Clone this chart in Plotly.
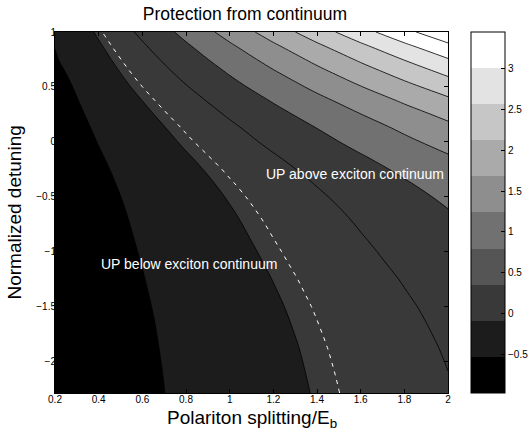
import plotly.graph_objects as go

# ---- data ----
x_vals = [0.2, 0.4, 0.6, 0.8, 1.0, 1.2, 1.4, 1.6, 1.8, 2.0]
y_vals = [-2.29, -2.125, -2.0, -1.875, -1.75, -1.625, -1.5, -1.375, -1.25, -1.125,
          -1.0, -0.875, -0.75, -0.625, -0.5, -0.375, -0.25, -0.125, 0.0,
          0.125, 0.25, 0.375, 0.5, 0.625, 0.75, 0.875, 1.0]
z_rows = [
    [-0.867, -0.734, -0.601, -0.468, -0.335, -0.202, -0.069, 0.064, 0.197, 0.330],
    [-0.865, -0.730, -0.596, -0.461, -0.326, -0.191, -0.056, 0.078, 0.213, 0.348],
    [-0.864, -0.727, -0.591, -0.454, -0.318, -0.182, -0.045, 0.091, 0.228, 0.364],
    [-0.862, -0.724, -0.585, -0.447, -0.309, -0.171, -0.033, 0.106, 0.244, 0.382],
    [-0.860, -0.719, -0.579, -0.438, -0.298, -0.158, -0.017, 0.123, 0.264, 0.404],
    [-0.857, -0.714, -0.572, -0.429, -0.286, -0.143, 0.000, 0.142, 0.285, 0.428],
    [-0.854, -0.709, -0.563, -0.418, -0.272, -0.126, 0.019, 0.165, 0.310, 0.456],
    [-0.851, -0.702, -0.553, -0.404, -0.255, -0.106, 0.043, 0.192, 0.341, 0.490],
    [-0.847, -0.695, -0.542, -0.390, -0.237, -0.084, 0.068, 0.221, 0.373, 0.526],
    [-0.843, -0.686, -0.529, -0.372, -0.215, -0.058, 0.099, 0.256, 0.413, 0.570],
    [-0.838, -0.677, -0.515, -0.354, -0.192, -0.030, 0.131, 0.293, 0.454, 0.616],
    [-0.833, -0.666, -0.500, -0.333, -0.166, 0.001, 0.168, 0.334, 0.501, 0.668],
    [-0.828, -0.656, -0.483, -0.311, -0.139, 0.033, 0.205, 0.378, 0.550, 0.722],
    [-0.821, -0.643, -0.464, -0.286, -0.107, 0.072, 0.250, 0.429, 0.607, 0.786],
    [-0.814, -0.627, -0.441, -0.254, -0.068, 0.118, 0.305, 0.491, 0.678, 0.864],
    [-0.804, -0.608, -0.412, -0.216, -0.020, 0.176, 0.372, 0.568, 0.764, 0.960],
    [-0.792, -0.585, -0.377, -0.170, 0.038, 0.246, 0.453, 0.661, 0.868, 1.076],
    [-0.778, -0.556, -0.334, -0.112, 0.110, 0.332, 0.554, 0.776, 0.998, 1.220],
    [-0.761, -0.522, -0.283, -0.044, 0.195, 0.434, 0.673, 0.912, 1.151, 1.390],
    [-0.743, -0.486, -0.229, 0.028, 0.285, 0.542, 0.799, 1.056, 1.313, 1.570],
    [-0.721, -0.442, -0.163, 0.116, 0.395, 0.674, 0.953, 1.232, 1.511, 1.790],
    [-0.696, -0.392, -0.088, 0.216, 0.520, 0.824, 1.128, 1.432, 1.736, 2.040],
    [-0.667, -0.334, -0.001, 0.332, 0.665, 0.998, 1.331, 1.664, 1.997, 2.330],
    [-0.620, -0.272, 0.092, 0.456, 0.820, 1.184, 1.548, 1.912, 2.276, 2.640],
    [-0.560, -0.204, 0.194, 0.592, 0.990, 1.388, 1.786, 2.184, 2.582, 2.980],
    [-0.525, -0.128, 0.308, 0.744, 1.180, 1.616, 2.052, 2.488, 2.924, 3.360],
    [-0.500, -0.040, 0.440, 0.920, 1.400, 1.880, 2.360, 2.840, 3.320, 3.800],
]
x_ticks = [0.2, 0.4, 0.6, 0.8, 1.0, 1.2, 1.4, 1.6, 1.8, 2.0]
x_tick_text = ["0.2", "0.4", "0.6", "0.8", "1", "1.2", "1.4", "1.6", "1.8", "2"]
y_ticks = [-2, -1.5, -1, -0.5, 0, 0.5, 1]
cbar_ticks = [-0.5, 0, 0.5, 1, 1.5, 2, 2.5, 3]
c_min, c_max, n_bands = -0.975, 3.45, 10
bar_grays = ["#000000", "#1c1c1c", "#393939", "#555555", "#717171",
             "#8e8e8e", "#aaaaaa", "#c6c6c6", "#e3e3e3", "#ffffff"]
# fill colour of each region of the map (below first level, then above each level)
region_grays = ["#000000", "#1c1c1c", "#393939", "#393939", "#717171", "#8e8e8e",
                "#aaaaaa", "#c6c6c6", "#e3e3e3", "#ffffff", "#ffffff"]

FONT = "Liberation Sans, Arial, sans-serif"
step = (c_max - c_min) / n_bands

fill_scale = [[k / n_bands, g] for k, g in enumerate(region_grays)]
bar_scale = []
for k, g in enumerate(bar_grays):
    bar_scale.append([k / n_bands, g])
    bar_scale.append([(k + 1) / n_bands, g])

fig = go.Figure()
fig.add_trace(go.Contour(
    x=x_vals, y=y_vals, z=z_rows,
    autocontour=False,
    contours=dict(start=c_min + step, end=c_max, size=step, coloring="fill"),
    colorscale=fill_scale, showscale=False,
    line=dict(color="black", width=0.8, smoothing=1.0),
    hoverinfo="skip",
))
fig.add_trace(go.Contour(
    x=x_vals, y=y_vals, z=z_rows,
    autocontour=False,
    contours=dict(start=0, end=0, size=1, coloring="none"),
    showscale=False,
    line=dict(color="white", width=1, dash="4px,5px", smoothing=1.0),
    hoverinfo="skip",
))
fig.add_trace(go.Scatter(
    x=[None], y=[None], mode="markers", showlegend=False, hoverinfo="skip",
    marker=dict(color=[c_min], cmin=c_min, cmax=c_max, colorscale=bar_scale,
                showscale=True,
                colorbar=dict(thickness=34, thicknessmode="pixels", len=1, lenmode="fraction",
                              x=(471 - 55) / 393, xanchor="left", xpad=0, ypad=0,
                              y=0.5, yanchor="middle",
                              outlinecolor="black", outlinewidth=1,
                              tickvals=cbar_ticks, ticks="inside", ticklen=4,
                              tickcolor="black",
                              tickfont=dict(family=FONT, size=10, color="black"))),
))

fig.add_annotation(x=0.402, y=-1.11, xref="x", yref="y", text="UP below exciton continuum",
                   showarrow=False, xanchor="left", yanchor="middle",
                   font=dict(family=FONT, size=14, color="white"))
fig.add_annotation(x=1.155, y=-0.29, xref="x", yref="y", text="UP above exciton continuum",
                   showarrow=False, xanchor="left", yanchor="middle",
                   font=dict(family=FONT, size=14, color="white"))
fig.add_annotation(x=0.5, y=(393 - 405) / 361, xref="paper", yref="paper",
                   text="Polariton splitting/E<sub>b</sub>", showarrow=False,
                   xanchor="center", yanchor="top",
                   font=dict(family=FONT, size=19, color="black"))
fig.add_annotation(x=(14 - 55) / 393, y=0.5, xref="paper", yref="paper",
                   text="Normalized detuning", showarrow=False, textangle=-90,
                   xanchor="center", yanchor="middle",
                   font=dict(family=FONT, size=19, color="black"))

axis_common = dict(showgrid=False, zeroline=False, showline=True, linecolor="black",
                   linewidth=1, mirror="ticks", ticks="inside", ticklen=4,
                   tickcolor="black", tickfont=dict(family=FONT, size=10, color="black"))
fig.update_layout(
    width=528, height=436,
    margin=dict(l=55, r=80, t=32, b=43, autoexpand=False),
    paper_bgcolor="white", plot_bgcolor="white",
    title=dict(text="Protection from continuum", x=(245 - 55) / 393, xref="paper",
               xanchor="center", y=1 - 14 / 436, yanchor="middle",
               font=dict(family=FONT, size=17.5, color="black")),
    xaxis=dict(range=[0.2, 2.0], tickvals=x_ticks, ticktext=x_tick_text,
               ticklabelstandoff=-3, **axis_common),
    yaxis=dict(range=[-2.29, 1.0], tickvals=y_ticks, ticklabelstandoff=-4, **axis_common),
    showlegend=False,
)
fig.write_html("out.html", config={"displayModeBar": False},
               post_script="document.body.style.margin='0';document.body.style.overflow='hidden';")
